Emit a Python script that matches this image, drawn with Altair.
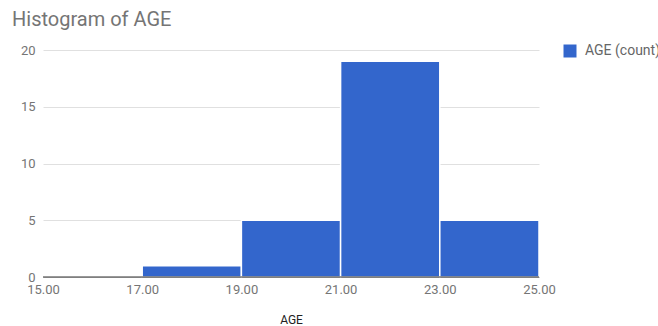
import altair as alt
import pandas as pd

# Histogram bins of AGE and their counts
bin_start = [15, 17, 19, 21, 23]
bin_end = [17, 19, 21, 23, 25]
counts = [0, 1, 5, 19, 5]
x_ticks = [15, 17, 19, 21, 23, 25]
y_ticks = [0, 5, 10, 15, 20]

df = pd.DataFrame({
    "start": bin_start,
    "end": bin_end,
    "count": counts,
    "series": ["AGE (count)"] * len(counts),
})

FONT = "Roboto"

bars = alt.Chart(df).mark_rect(stroke="white", strokeWidth=1.5).encode(
    x=alt.X(
        "start:Q",
        scale=alt.Scale(domain=[15, 25], nice=False, zero=False),
        axis=alt.Axis(
            title="AGE",
            values=x_ticks,
            format=".2f",
            grid=False,
            ticks=False,
            domain=True,
            domainColor="#333333",
            domainWidth=1,
            labelFlush=False,
            labelOverlap=False,
            labelPadding=6,
            labelFontSize=13,
            labelColor="#757575",
            labelFont=FONT,
            titleFont=FONT,
            titleFontSize=12,
            titleFontWeight="normal",
            titleColor="#222222",
            titlePadding=18,
        ),
    ),
    x2="end:Q",
    y=alt.Y(
        "count:Q",
        scale=alt.Scale(domain=[0, 20], nice=False),
        axis=alt.Axis(
            title=None,
            values=y_ticks,
            grid=True,
            gridColor="#e0e0e0",
            ticks=False,
            domain=False,
            labelPadding=8,
            labelFontSize=13,
            labelColor="#757575",
            labelFont=FONT,
        ),
    ),
    y2=alt.Y2(datum=0),
    color=alt.Color(
        "series:N",
        scale=alt.Scale(domain=["AGE (count)"], range=["#3366cc"]),
        legend=alt.Legend(
            title=None,
            orient="none",
            legendX=520,
            legendY=-6,
            symbolType="square",
            symbolSize=169,
            symbolStrokeWidth=0,
            labelFont=FONT,
            labelFontSize=14,
            labelColor="#666666",
            labelOffset=8,
            labelLimit=0,
        ),
    ),
)

# zero baseline drawn over the bars
baseline = alt.Chart(pd.DataFrame({"y": [0]})).mark_rule(color="#333333", strokeWidth=1).encode(
    y="y:Q"
)

chart = alt.layer(bars, baseline).properties(
    width=496,
    height=227,
    autosize=alt.AutoSizeParams(type="none"),
    padding={"left": 43, "top": 50, "right": 119, "bottom": 49},
    title=alt.TitleParams(
        "Histogram of AGE",
        anchor="start",
        frame="group",
        font=FONT,
        fontSize=20,
        fontWeight="normal",
        color="#757575",
        dx=-31,
        offset=14,
    ),
).configure_view(stroke=None)

chart.save("out.html", embed_options={"renderer": "svg", "actions": False})
